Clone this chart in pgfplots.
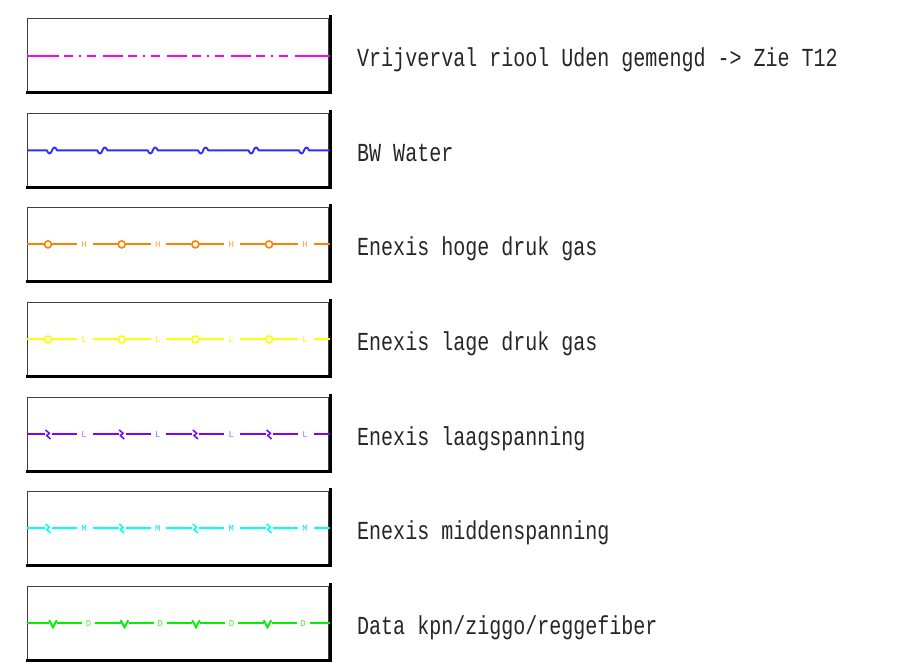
\documentclass[border=0pt]{standalone}
\usepackage{pgfplots}
\pgfplotsset{compat=1.18}
\usepackage{fontspec}
\newfontfamily\cadfont[FakeStretch=0.77]{Liberation Mono}
\newfontfamily\smallfont{Liberation Mono}
\definecolor{cmag}{RGB}{255,0,255}
\definecolor{cblue}{RGB}{45,45,255}
\definecolor{corange}{RGB}{255,127,0}
\definecolor{cyellow}{RGB}{255,255,0}
\definecolor{cpurple}{RGB}{127,0,255}
\definecolor{ccyan}{RGB}{0,255,255}
\definecolor{cgreen}{RGB}{0,240,0}
\begin{document}
\begin{tikzpicture}
\begin{axis}[
  width=897pt, height=667pt, scale only axis,
  xmin=0, xmax=897, ymin=0, ymax=667, y dir=reverse,
  enlargelimits=false, hide axis, clip=false,
  unbounded coords=jump,
  boxthin/.style={black!75, line width=1pt, mark=none},
  boxthick/.style={black, line width=3pt, mark=none, line join=miter},
  ln/.style={line width=1.9pt, mark=none, line join=round},
  lab/.style={draw=none, mark=none, point meta=explicit symbolic, nodes near coords,
     nodes near coords style={anchor=center, inner sep=0pt, font=\smallfont\fontsize{9}{9}\selectfont}},
]
% ---------- boxes ----------
\addplot[boxthin] coordinates {(27,18) (328,18) (328,91) (27,91) (27,18)};
\addplot[boxthick] coordinates {(26,92.5) (330,92.5) (330,15)};
\addplot[boxthin] coordinates {(27,113) (328,113) (328,186) (27,186) (27,113)};
\addplot[boxthick] coordinates {(26,187.5) (330,187.5) (330,110)};
\addplot[boxthin] coordinates {(27,207) (328,207) (328,280) (27,280) (27,207)};
\addplot[boxthick] coordinates {(26,281.5) (330,281.5) (330,204)};
\addplot[boxthin] coordinates {(27,302) (328,302) (328,375) (27,375) (27,302)};
\addplot[boxthick] coordinates {(26,376.5) (330,376.5) (330,299)};
\addplot[boxthin] coordinates {(27,397) (328,397) (328,470) (27,470) (27,397)};
\addplot[boxthick] coordinates {(26,471.5) (330,471.5) (330,394)};
\addplot[boxthin] coordinates {(27,491) (328,491) (328,564) (27,564) (27,491)};
\addplot[boxthick] coordinates {(26,565.5) (330,565.5) (330,488)};
\addplot[boxthin] coordinates {(27,586) (328,586) (328,659) (27,659) (27,586)};
\addplot[boxthick] coordinates {(26,660.5) (330,660.5) (330,583)};

% ---------- row 1: magenta dash-dot ----------
\addplot[draw=cmag, line width=1.9pt, mark=none,
  dash pattern=on 20pt off 5pt on 9pt off 6pt on 2pt off 6pt on 9pt off 7pt]
  coordinates {(39,56) (295,56)};
\addplot[draw=cmag, line width=1.9pt, mark=none] coordinates {(27,56) (59,56)};
\addplot[draw=cmag, line width=1.9pt, mark=none] coordinates {(295,56) (330,56)};

% ---------- row 2: blue water with wiggles ----------
\addplot[ln, color=cblue] coordinates {
 (27,150.4)
 (47,150.4)(48,152.5)(49.5,153.6)(51,152.6)(52,150.4)(53,148.4)(54.5,147.4)(56,148.5)(57,150.4)
 (97.4,150.4)(98.4,152.5)(99.9,153.6)(101.4,152.6)(102.4,150.4)(103.4,148.4)(104.9,147.4)(106.4,148.5)(107.4,150.4)
 (147.8,150.4)(148.8,152.5)(150.3,153.6)(151.8,152.6)(152.8,150.4)(153.8,148.4)(155.3,147.4)(156.8,148.5)(157.8,150.4)
 (198.2,150.4)(199.2,152.5)(200.7,153.6)(202.2,152.6)(203.2,150.4)(204.2,148.4)(205.7,147.4)(207.2,148.5)(208.2,150.4)
 (248.6,150.4)(249.6,152.5)(251.1,153.6)(252.6,152.6)(253.6,150.4)(254.6,148.4)(256.1,147.4)(257.6,148.5)(258.6,150.4)
 (299,150.4)(300,152.5)(301.5,153.6)(303,152.6)(304,150.4)(305,148.4)(306.5,147.4)(308,148.5)(309,150.4)
 (330,150.4)};

% ---------- row 3: orange high pressure gas ----------
\addplot[ln, color=corange] coordinates {
 (27,244.4) (44,244.4) (nan,nan) (52,244.4) (77,244.4) (nan,nan) (92.5,244.4) (117.7,244.4) (nan,nan)
 (125.7,244.4) (150.7,244.4) (nan,nan) (166.2,244.4) (191.4,244.4) (nan,nan) (199.4,244.4) (224.4,244.4) (nan,nan)
 (239.9,244.4) (265.1,244.4) (nan,nan) (273.1,244.4) (298.1,244.4) (nan,nan) (313.6,244.4) (330,244.4)};
\addplot[only marks, mark=o, mark size=3.5pt, color=corange, mark options={line width=1.6pt}] coordinates {
 (48,244.4) (121.7,244.4) (195.4,244.4) (269.1,244.4)};
\addplot[lab, nodes near coords style={text=corange!75}] table[meta=t] {
x y t
84 244.4 H
157.7 244.4 H
231.4 244.4 H
305.1 244.4 H
};

% ---------- row 4: yellow low pressure gas ----------
\addplot[ln, color=cyellow] coordinates {
 (27,339.4) (44,339.4) (nan,nan) (52,339.4) (77,339.4) (nan,nan) (92.5,339.4) (117.7,339.4) (nan,nan)
 (125.7,339.4) (150.7,339.4) (nan,nan) (166.2,339.4) (191.4,339.4) (nan,nan) (199.4,339.4) (224.4,339.4) (nan,nan)
 (239.9,339.4) (265.1,339.4) (nan,nan) (273.1,339.4) (298.1,339.4) (nan,nan) (313.6,339.4) (330,339.4)};
\addplot[only marks, mark=o, mark size=3.5pt, color=cyellow, mark options={line width=1.6pt}] coordinates {
 (48,339.4) (121.7,339.4) (195.4,339.4) (269.1,339.4)};
\addplot[lab, nodes near coords style={text=cyellow!90!orange}] table[meta=t] {
x y t
84 339.4 L
157.7 339.4 L
231.4 339.4 L
305.1 339.4 L
};

% ---------- row 5: purple low voltage ----------
\addplot[ln, color=cpurple] coordinates {
 (27,434.4) (45,434.4) (nan,nan) (52,434.4) (77,434.4) (nan,nan) (92.5,434.4) (118.7,434.4) (nan,nan)
 (125.7,434.4) (150.7,434.4) (nan,nan) (166.2,434.4) (192.4,434.4) (nan,nan) (199.4,434.4) (224.4,434.4) (nan,nan)
 (239.9,434.4) (266.1,434.4) (nan,nan) (273.1,434.4) (298.1,434.4) (nan,nan) (313.6,434.4) (330,434.4)};
\addplot[ln, color=cpurple, line width=1.5pt] coordinates {
 (45.5,430) (49.5,433.4) (46.5,435.4) (50.5,439) (nan,nan)
 (119.2,430) (123.2,433.4) (120.2,435.4) (124.2,439) (nan,nan)
 (192.9,430) (196.9,433.4) (193.9,435.4) (197.9,439) (nan,nan)
 (266.6,430) (270.6,433.4) (267.6,435.4) (271.6,439)};
\addplot[lab, nodes near coords style={text=cpurple!60}] table[meta=t] {
x y t
84 434.4 L
157.7 434.4 L
231.4 434.4 L
305.1 434.4 L
};

% ---------- row 6: cyan medium voltage ----------
\addplot[ln, color=ccyan] coordinates {
 (27,528.4) (45,528.4) (nan,nan) (52,528.4) (77,528.4) (nan,nan) (92.5,528.4) (118.7,528.4) (nan,nan)
 (125.7,528.4) (150.7,528.4) (nan,nan) (166.2,528.4) (192.4,528.4) (nan,nan) (199.4,528.4) (224.4,528.4) (nan,nan)
 (239.9,528.4) (266.1,528.4) (nan,nan) (273.1,528.4) (298.1,528.4) (nan,nan) (313.6,528.4) (330,528.4)};
\addplot[ln, color=ccyan, line width=1.5pt] coordinates {
 (45.5,524) (49.5,527.4) (46.5,529.4) (50.5,533) (nan,nan)
 (119.2,524) (123.2,527.4) (120.2,529.4) (124.2,533) (nan,nan)
 (192.9,524) (196.9,527.4) (193.9,529.4) (197.9,533) (nan,nan)
 (266.6,524) (270.6,527.4) (267.6,529.4) (271.6,533)};
\addplot[lab, nodes near coords style={text=ccyan!85!blue}] table[meta=t] {
x y t
84 528.4 M
157.7 528.4 M
231.4 528.4 M
305.1 528.4 M
};

% ---------- row 7: green data ----------
\addplot[ln, color=cgreen] coordinates {
 (27,623.4) (49,623.4) (nan,nan) (57,623.4) (82,623.4) (nan,nan) (95,623.4) (120.5,623.4) (nan,nan)
 (128.5,623.4) (153.5,623.4) (nan,nan) (166.5,623.4) (192,623.4) (nan,nan) (200,623.4) (225,623.4) (nan,nan)
 (238,623.4) (263.5,623.4) (nan,nan) (271.5,623.4) (296.5,623.4) (nan,nan) (309.5,623.4) (330,623.4)};
\addplot[ln, color=cgreen, line width=1.9pt, line join=miter] coordinates {
 (49.2,620.2) (53,627.2) (56.8,620.2) (nan,nan)
 (120.7,620.2) (124.5,627.2) (128.3,620.2) (nan,nan)
 (192.2,620.2) (196,627.2) (199.8,620.2) (nan,nan)
 (263.7,620.2) (267.5,627.2) (271.3,620.2)};
\addplot[lab, nodes near coords style={text=cgreen!75}] table[meta=t] {
x y t
88.5 623.4 D
160 623.4 D
231.5 623.4 D
303 623.4 D
};

% ---------- labels ----------
\begin{scope}[every node/.style={anchor=base west, inner sep=0pt, text=black!85,
   font=\cadfont\fontsize{26}{26}\selectfont}]
\node at (axis cs:357,66.5) {Vrijverval riool Uden gemengd -> Zie T12};
\node at (axis cs:357,161.5) {BW Water};
\node at (axis cs:357,255.5) {Enexis hoge druk gas};
\node at (axis cs:357,350.5) {Enexis lage druk gas};
\node at (axis cs:357,445.5) {Enexis laagspanning};
\node at (axis cs:357,539.5) {Enexis middenspanning};
\node at (axis cs:357,634.5) {Data kpn/ziggo/reggefiber};
\end{scope}
\end{axis}
\pgfresetboundingbox
\useasboundingbox (0,0) rectangle (897pt,667pt);
\end{tikzpicture}
\end{document}
